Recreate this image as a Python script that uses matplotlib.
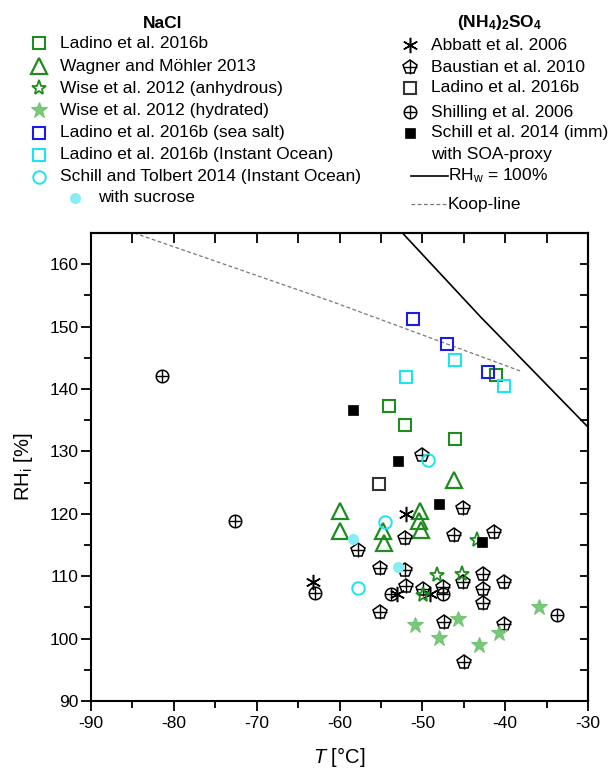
import matplotlib
matplotlib.use('Agg')
import matplotlib.pyplot as plt
import numpy as np

plt.rcParams['font.family'] = ['Liberation Sans', 'DejaVu Sans']
plt.rcParams['mathtext.fontset'] = 'custom'
plt.rcParams['mathtext.rm'] = 'Liberation Sans'
plt.rcParams['mathtext.it'] = 'Liberation Sans:italic'
plt.rcParams['mathtext.bf'] = 'Liberation Sans:bold'
plt.rcParams['axes.unicode_minus'] = False

# ---- NaCl data (T in degC, RH_i in %) ----
ladino_nacl_T = [-54.0, -52.1, -46.0, -41.1]
ladino_nacl_RH = [137.3, 134.2, 132.0, 142.2]

wagner_T = [-60.0, -59.9, -54.8, -54.6, -50.3, -50.4, -50.2, -46.2]
wagner_RH = [120.4, 117.2, 117.2, 115.3, 120.4, 118.8, 117.4, 125.4]

wise_anh_T = [-48.2, -45.2, -49.9, -43.4]
wise_anh_RH = [110.2, 110.3, 107.0, 115.8]

wise_hyd_T = [-50.9, -45.7, -48.0, -43.2, -40.7, -35.9]
wise_hyd_RH = [102.1, 103.2, 100.1, 99.0, 100.9, 105.1]

seasalt_T = [-51.1, -47.0, -42.1]
seasalt_RH = [151.2, 147.2, 142.7]

instocean_T = [-52.0, -46.0, -40.1]
instocean_RH = [141.9, 144.6, 140.5]

schill_tolbert_T = [-49.3, -54.5, -57.8]
schill_tolbert_RH = [128.7, 118.7, 108.1]

sucrose_T = [-58.4, -52.9]
sucrose_RH = [115.9, 111.4]

# ---- (NH4)2SO4 data ----
abbatt_T = [-52.0, -63.2, -53.1, -49.1]
abbatt_RH = [120.0, 109.1, 107.1, 107.1]

baustian_T = [-50.0, -45.1, -52.1, -57.8, -46.2, -41.3, -55.1, -52.1, -52.0, -49.9,
              -47.5, -45.1, -42.7, -42.7, -42.7, -40.1, -55.1, -47.4, -40.1, -45.0]
baustian_RH = [129.4, 120.9, 116.1, 114.2, 116.6, 117.1, 111.3, 111.0, 108.5, 108.0,
               108.3, 109.1, 110.3, 107.9, 105.7, 109.1, 104.3, 102.7, 102.3, 96.2]

ladino_as_T = [-55.2]
ladino_as_RH = [124.8]

shilling_T = [-81.4, -72.6, -63.0, -53.8, -47.5, -33.7]
shilling_RH = [142.1, 118.9, 107.3, 107.1, 107.2, 103.8]

schill_imm_T = [-58.4, -52.9, -48.0, -42.8]
schill_imm_RH = [136.6, 128.5, 121.6, 115.5]

# ---- reference lines ----
rhw_T = [-52.4, -43.0, -30.0]
rhw_RH = [165.0, 151.6, 133.9]
koop_T = [-84.8, -61.1, -38.2]
koop_RH = [165.0, 154.1, 142.9]

DKGREEN = '#1e8c1e'
LTGREEN = '#6cc26c'
BLUE = '#1c1ce8'
CYAN = '#1ee4f0'
LTCYAN = '#88eef4'

# marker styles; crossed symbols get a '+' overlay
sty_ladino_nacl = dict(marker='s', ms=8, mfc='none', mec=DKGREEN, mew=1.5)
sty_wagner = dict(marker='^', ms=12, mfc='none', mec=DKGREEN, mew=1.6)
sty_wise_anh = dict(marker='*', ms=11, mfc='none', mec=DKGREEN, mew=1.3)
sty_wise_hyd = dict(marker='*', ms=12, mfc=LTGREEN, mec=LTGREEN, mew=0.8, alpha=0.9)
sty_seasalt = dict(marker='s', ms=8, mfc='none', mec=BLUE, mew=1.5)
sty_instocean = dict(marker='s', ms=8, mfc='none', mec=CYAN, mew=1.5)
sty_schill_tolbert = dict(marker='o', ms=9, mfc='none', mec=CYAN, mew=1.4)
sty_sucrose = dict(marker='o', ms=8, mfc=LTCYAN, mec=LTCYAN, mew=0)
sty_abbatt = dict(marker=(6, 2, 0), ms=11, mfc='none', mec='black', mew=1.1)
sty_baustian = dict(marker='p', ms=10, mfc='none', mec='black', mew=1.1)
sty_ladino_as = dict(marker='s', ms=8, mfc='none', mec='#333333', mew=1.5)
sty_shilling = dict(marker='o', ms=9, mfc='none', mec='black', mew=1.1)
sty_schill_imm = dict(marker='s', ms=7, mfc='black', mec='black', mew=0.5)
sty_cross = dict(marker='+', ms=10, mfc='none', mec='black', mew=1.0)
sty_cross_c = dict(marker='+', ms=9, mfc='none', mec='black', mew=1.0)

series = [
    (ladino_nacl_T, ladino_nacl_RH, [sty_ladino_nacl]),
    (wagner_T, wagner_RH, [sty_wagner]),
    (baustian_T, baustian_RH, [sty_baustian, sty_cross]),
    (shilling_T, shilling_RH, [sty_shilling, sty_cross_c]),
    (abbatt_T, abbatt_RH, [sty_abbatt]),
    (ladino_as_T, ladino_as_RH, [sty_ladino_as]),
    (wise_hyd_T, wise_hyd_RH, [sty_wise_hyd]),
    (wise_anh_T, wise_anh_RH, [sty_wise_anh]),
    (schill_imm_T, schill_imm_RH, [sty_schill_imm]),
    (seasalt_T, seasalt_RH, [sty_seasalt]),
    (instocean_T, instocean_RH, [sty_instocean]),
    (schill_tolbert_T, schill_tolbert_RH, [sty_schill_tolbert]),
    (sucrose_T, sucrose_RH, [sty_sucrose]),
]

fig = plt.figure(figsize=(6.12, 7.68), dpi=100)
ax = fig.add_axes([91 / 612, 67 / 768, 497 / 612, 468 / 768])

ax.plot(koop_T, koop_RH, color='#777777', lw=0.9, ls=(0, (3, 2)), zorder=2)
ax.plot(rhw_T, rhw_RH, color='black', lw=1.2, zorder=2)

for xs, ys, styles in series:
    for st in styles:
        ax.plot(xs, ys, ls='none', zorder=3, **st)

ax.set_xlim(-90, -30)
ax.set_ylim(90, 165)
ax.set_xticks(np.arange(-90, -29, 10))
ax.set_xticks(np.arange(-85, -30, 10), minor=True)
ax.set_yticks(np.arange(90, 161, 10))
ax.set_yticks(np.arange(95, 165, 10), minor=True)
ax.tick_params(axis='both', which='major', direction='out', length=7, width=1.3,
               labelsize=12.5, top=False, right=False)
ax.tick_params(axis='both', which='minor', direction='out', length=5, width=1.3,
               top=False, right=False)
ax.tick_params(axis='x', pad=4)
ax.tick_params(axis='y', pad=2)
for sp in ax.spines.values():
    sp.set_linewidth(1.5)

# inward ticks on the top and right frame
secx = ax.secondary_xaxis('top')
secx.set_xticks(np.arange(-90, -29, 5))
secx.tick_params(direction='in', length=7, width=1.3, labeltop=False)
secx.spines['top'].set_linewidth(1.5)
secy = ax.secondary_yaxis('right')
secy.set_yticks(np.arange(90, 166, 5))
secy.tick_params(direction='in', length=6, width=1.3, labelright=False)
secy.spines['right'].set_linewidth(1.5)

ax.set_xlabel(r'$\mathit{T}$ [°C]', fontsize=14.5)
ax.set_ylabel(r'RH$_\mathrm{i}$ [%]', fontsize=14.5)
ax.xaxis.set_label_coords(0.5, -0.094)
ax.yaxis.set_label_coords(-0.112, 0.5)

# ---- legend block drawn in pixel coordinates above the plot ----
lax = fig.add_axes([0, 1 - 215 / 768, 1, 215 / 768])
lax.set_xlim(0, 612)
lax.set_ylim(215, 0)
lax.axis('off')

FS = 12.5
lax.text(163, 23, 'NaCl', fontsize=FS, fontweight='bold', ha='center', va='center')
left_items = [
    ([sty_ladino_nacl], 'Ladino et al. 2016b'),
    ([sty_wagner], 'Wagner and Möhler 2013'),
    ([sty_wise_anh], 'Wise et al. 2012 (anhydrous)'),
    ([sty_wise_hyd], 'Wise et al. 2012 (hydrated)'),
    ([sty_seasalt], 'Ladino et al. 2016b (sea salt)'),
    ([sty_instocean], 'Ladino et al. 2016b (Instant Ocean)'),
    ([sty_schill_tolbert], 'Schill and Tolbert 2014 (Instant Ocean)'),
]
left_rows = [43, 66, 88, 110, 133, 155, 177]
for (styles, label), yy in zip(left_items, left_rows):
    for st in styles:
        lax.plot([39], [yy], ls='none', clip_on=False, **st)
    lax.text(60, yy, label, fontsize=FS, va='center')
lax.plot([75], [198], ls='none', clip_on=False, **sty_sucrose)
lax.text(98, 198, 'with sucrose', fontsize=FS, va='center')

lax.text(500, 22, r'$\mathbf{(NH_4)_2SO_4}$', fontsize=FS, ha='center', va='center')
right_items = [
    ([sty_abbatt], 'Abbatt et al. 2006'),
    ([sty_baustian, sty_cross], 'Baustian et al. 2010'),
    ([sty_ladino_as], 'Ladino et al. 2016b'),
    ([sty_shilling, sty_cross_c], 'Shilling et al. 2006'),
    ([sty_schill_imm], 'Schill et al. 2014 (imm)'),
]
right_rows = [45, 67, 88, 112, 133]
for (styles, label), yy in zip(right_items, right_rows):
    for st in styles:
        lax.plot([410], [yy], ls='none', clip_on=False, **st)
    lax.text(431, yy, label, fontsize=FS, va='center')
lax.text(431, 155, 'with SOA-proxy', fontsize=FS, va='center')
lax.plot([411, 448], [176, 176], color='black', lw=1.2)
lax.text(448, 176, r'RH$_\mathrm{w}$ = 100%', fontsize=FS, va='center')
lax.plot([411, 448], [204, 204], color='#777777', lw=0.9, ls=(0, (3, 2)))
lax.text(448, 204, 'Koop-line', fontsize=FS, va='center')

fig.savefig('out.png', dpi=100)
